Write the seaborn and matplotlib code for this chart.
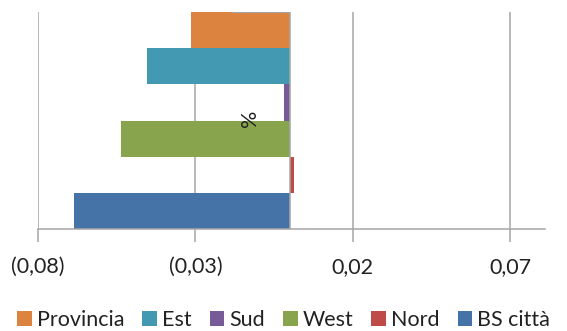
import matplotlib
matplotlib.use("Agg")
import matplotlib.pyplot as plt
import seaborn as sns
import pandas as pd
from matplotlib.patches import Patch
from matplotlib.ticker import FixedLocator

categories = ["Provincia", "Est", "Sud", "West", "Nord", "BS città"]
values = [-0.0313, -0.0455, -0.0019, -0.0535, 0.0012, -0.0687]
colors = ["#DC8340", "#4399B1", "#775B99", "#88A54E", "#BE4B48", "#4573A7"]
xticks = [-0.08, -0.03, 0.02, 0.07]
xtick_labels = ["(0,08)", "(0,03)", "0,02", "0,07"]

sns.set_theme(style="white")
plt.rcParams['font.family'] = ['Lato', 'DejaVu Sans']

df = pd.DataFrame({"cat": categories, "val": values})

fig = plt.figure(figsize=(5.67, 3.31), dpi=100)
ax = fig.add_axes([38/567, 1-229/331, (545-38)/567, (229-12)/331])

sns.barplot(data=df, y="cat", x="val", hue="cat", palette=colors,
            order=categories, hue_order=categories, width=1.0,
            legend=False, ax=ax, saturation=1, linewidth=0)

ax.set_xlim(-0.08, 0.0811)
ax.set_ylim(5.5, -0.5)
ax.xaxis.set_major_locator(FixedLocator(xticks))
ax.set_xticklabels(xtick_labels, fontsize=15.5, color="#222222")
ax.set_yticks([])
ax.set_xlabel("")
ax.set_ylabel("")
grid_c = "#A6A6A6"
for x in xticks:
    ax.axvline(x, color=grid_c, lw=1.1, zorder=0)
ax.axvline(0, color=grid_c, lw=1.1, zorder=3)
ax.hlines(-0.5, -0.0185, 0, color=grid_c, lw=1.5, zorder=3)
for s in ["top", "right", "left"]:
    ax.spines[s].set_visible(False)
ax.spines["bottom"].set_color(grid_c)
ax.spines["bottom"].set_linewidth(1.1)
ax.tick_params(axis="x", direction="out", length=9, width=1.1, color=grid_c,
               pad=11, bottom=True)

ax.text((250-38)/(545-38), 1 - (118-12)/(229-12), "%",
        transform=ax.transAxes, rotation=90, fontsize=15.5, ha="center",
        va="center", color="#222222")

handles = [Patch(facecolor=c, edgecolor="none", label=l) for c, l in zip(colors, categories)]
fig.legend(handles=handles, loc="center", bbox_to_anchor=(0.5, 1-320/331),
           ncol=6, frameon=False, fontsize=15.5, handlelength=0.68,
           handleheight=0.68, handletextpad=0.22, columnspacing=0.85,
           labelcolor="#222222")

fig.savefig("out.png", dpi=100)
